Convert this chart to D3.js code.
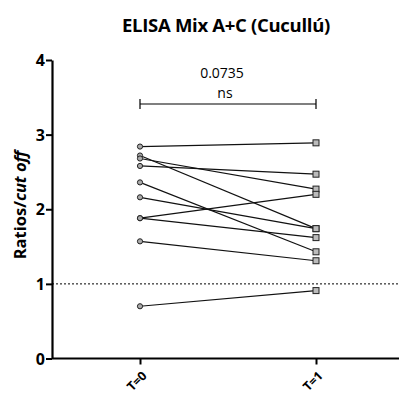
<!DOCTYPE html>
<html>
<head>
<meta charset="utf-8">
<script src="https://cdn.jsdelivr.net/npm/d3@7"></script>
<style>
  body { margin: 0; background: #fff; }
  svg { display: block; font-family: "Open Sans", "Noto Sans", sans-serif; }
</style>
</head>
<body>
<svg id="chart" width="399" height="396"></svg>
<script>
const timepoints = ["T=0", "T=1"];
// paired ratios per subject: value at T=0 and at T=1
const ratiosT0 = [2.84, 2.72, 2.68, 2.58, 2.36, 2.16, 1.88, 1.88, 1.57, 0.70];
const ratiosT1 = [2.89, 1.74, 2.27, 2.47, 1.43, 1.74, 2.20, 1.62, 1.31, 0.91];
const yTicks = [0, 1, 2, 3, 4];
const cutOff = 1;
const pValue = "0.0735";
const sigLabel = "ns";

const svg = d3.select("#chart");
const W = 399, H = 396;

const x = d3.scalePoint().domain(timepoints).range([52, 404]).padding(0.5);
const y = d3.scaleLinear().domain([0, 4]).range([358.5, 60]);

// title
svg.append("text")
  .attr("x", 226).attr("y", 32)
  .attr("text-anchor", "middle")
  .attr("font-size", 18.5).attr("font-weight", "bold")
  .attr("letter-spacing", -0.3)
  .text("ELISA Mix A+C (Cucullú)");

// y axis label
const yl = svg.append("text")
  .attr("transform", "translate(26,205) rotate(-90)")
  .attr("text-anchor", "middle")
  .attr("font-size", 16.5).attr("font-weight", "bold");
yl.append("tspan").text("Ratios/");
yl.append("tspan").attr("font-style", "italic").text("cut off");

// cut-off line
svg.append("line")
  .attr("x1", 52).attr("x2", W)
  .attr("y1", y(cutOff)).attr("y2", y(cutOff))
  .attr("stroke", "#000").attr("stroke-width", 1)
  .attr("stroke-dasharray", "2,2");

// y axis
const yAxis = svg.append("g")
  .attr("transform", "translate(52,0)")
  .call(d3.axisLeft(y).tickValues(yTicks).tickFormat(d3.format("d")).tickSize(6).tickSizeOuter(0));
yAxis.select(".domain").attr("stroke-width", 2.2);
yAxis.selectAll(".tick line").attr("stroke-width", 2);
yAxis.selectAll(".tick text")
  .attr("font-size", 16).attr("font-weight", "bold")
  .attr("font-family", "Open Sans, sans-serif").attr("x", -7).attr("dy", "0.35em");

// x axis
const xAxis = svg.append("g")
  .attr("transform", `translate(0,${y(0)})`)
  .call(d3.axisBottom(x).tickSize(6).tickSizeOuter(0));
xAxis.select(".domain").attr("d", `M52,0H${W}`).attr("stroke-width", 2.2);
xAxis.selectAll(".tick line").attr("stroke-width", 2);
xAxis.selectAll(".tick text")
  .attr("font-size", 12.5).attr("font-weight", "bold")
  .attr("font-family", "Open Sans, sans-serif")
  .attr("text-anchor", "end")
  .attr("transform", "translate(4,15) rotate(-45)")
  .attr("y", 0).attr("dy", "0.35em");

// significance bracket
const bx1 = x("T=0"), bx2 = x("T=1"), by = 104;
svg.append("path")
  .attr("d", `M${bx1},${by - 5}V${by + 5}M${bx1},${by}H${bx2}M${bx2},${by - 5}V${by + 5}`)
  .attr("stroke", "#000").attr("stroke-width", 1.2).attr("fill", "none");
svg.append("text")
  .attr("x", (bx1 + bx2) / 2 - 6).attr("y", 78)
  .attr("text-anchor", "middle").attr("font-size", 14)
  .text(pValue);
svg.append("text")
  .attr("x", (bx1 + bx2) / 2 - 3).attr("y", 97.5)
  .attr("text-anchor", "middle").attr("font-size", 14)
  .text(sigLabel);

// paired lines
const pairs = ratiosT0.map((v, i) => [v, ratiosT1[i]]);
svg.append("g").selectAll("line")
  .data(pairs)
  .join("line")
  .attr("x1", x("T=0")).attr("x2", x("T=1"))
  .attr("y1", d => y(d[0])).attr("y2", d => y(d[1]))
  .attr("stroke", "#111").attr("stroke-width", 1.2);

// markers
svg.append("g").selectAll("circle")
  .data(ratiosT0)
  .join("circle")
  .attr("cx", x("T=0")).attr("cy", d => y(d))
  .attr("r", 2.6)
  .attr("fill", "#aaa").attr("stroke", "#222").attr("stroke-width", 1);

svg.append("g").selectAll("rect")
  .data(ratiosT1)
  .join("rect")
  .attr("x", x("T=1") - 3).attr("y", d => y(d) - 3)
  .attr("width", 6).attr("height", 6)
  .attr("fill", "#bbb").attr("stroke", "#222").attr("stroke-width", 1);
</script>
</body>
</html>
